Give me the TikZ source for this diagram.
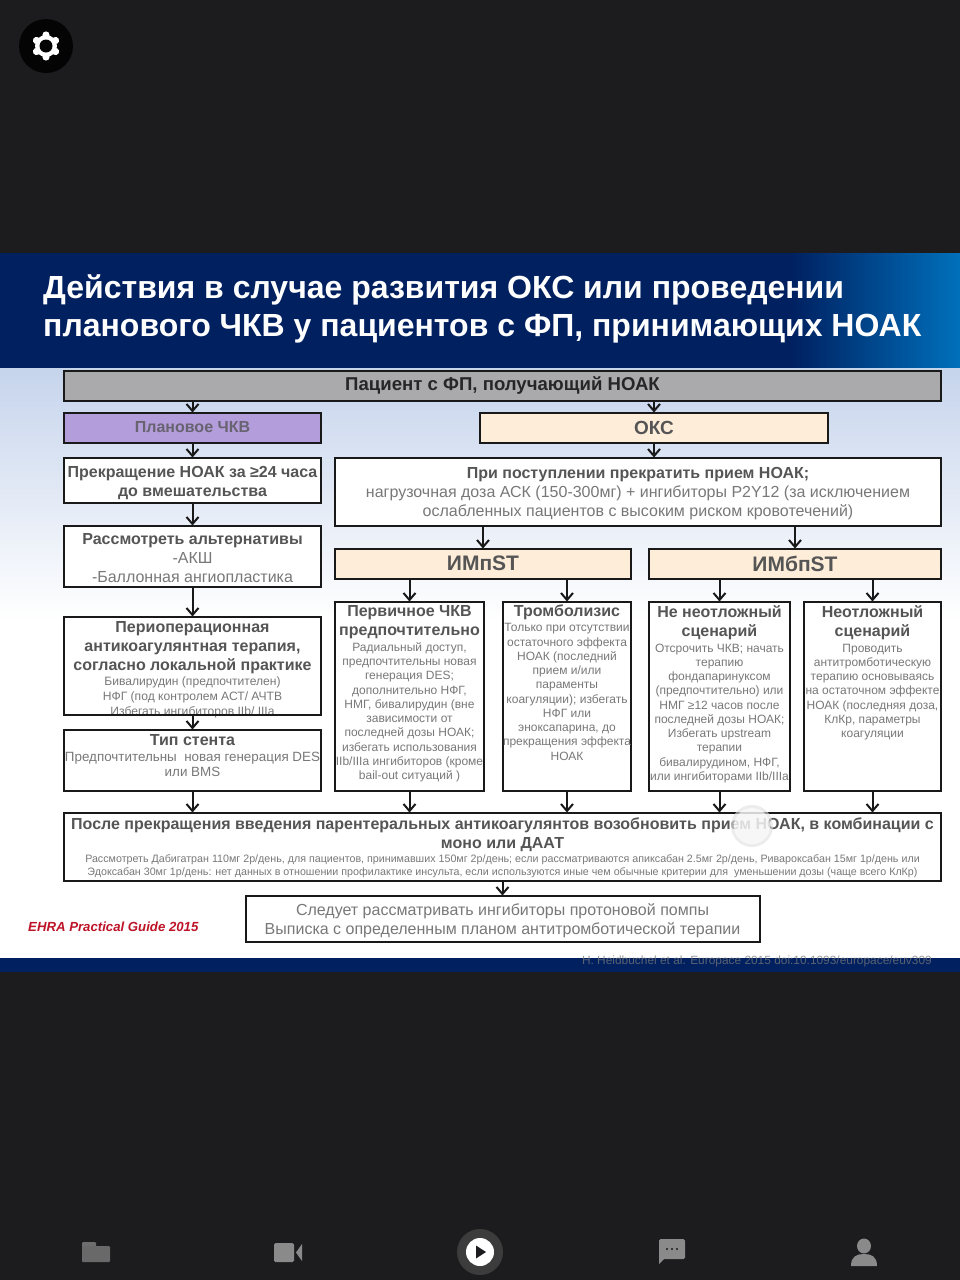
\documentclass[tikz,border=0pt]{standalone}
\usepackage{fontspec}
\setmainfont{Liberation Sans}
\usepackage{xcolor}
\usepackage{tikz}
\usetikzlibrary{arrows.meta, positioning}
\definecolor{appdark}{RGB}{28, 28, 30}
\definecolor{navy}{RGB}{0, 32, 96}
\definecolor{brightblue}{RGB}{0, 112, 187}
\definecolor{paleblue}{RGB}{198, 212, 236}
\definecolor{headgrey}{RGB}{85, 85, 85}
\definecolor{bodygrey}{RGB}{120, 120, 120}
\definecolor{patientgrey}{RGB}{170, 170, 172}
\definecolor{lilac}{RGB}{179, 157, 219}
\definecolor{cream}{RGB}{253, 237, 217}
\definecolor{ehrared}{RGB}{190, 20, 40}
\definecolor{icongrey}{RGB}{138, 138, 138}
\newcommand{\hd}{\fontsize{16}{19}\selectfont\bfseries\color{headgrey}}
\newcommand{\reg}{\fontsize{16}{19}\selectfont\color{bodygrey}}
\newcommand{\sm}{\fontsize{12}{14.25}\selectfont\color{bodygrey}}
\newcommand{\tinytxt}{\fontsize{10.7}{13.3}\selectfont\color{bodygrey}}
% width, height, vertical position, text
\newcommand{\flowtext}[4]{\parbox[c][#2pt][#3]{#1pt}{\centering #4}}

\begin{document}
\begin{tikzpicture}[
    x=1pt, y=-1pt,
    flowbox/.style={rectangle, draw=black!90, fill=white, line width=2pt, inner sep=0pt, outer sep=0pt, align=center},
    titlebox/.style={flowbox, fill=cream},
    line/.style={draw=black!90, line width=2pt, -{Straight Barb[length=7pt, width=12pt, line width=2pt]}},
    icon/.style={fill=icongrey, draw=none}
]

    % Background
    \useasboundingbox (0,0) rectangle (960,1280);
    \fill[appdark] (0,0) rectangle (960,1280);
    \fill[navy] (0,253) rectangle (790,368);
    \shade[left color=navy, right color=brightblue] (790,253) rectangle (960,368);
    \shade[top color=paleblue, bottom color=white] (0,368) rectangle (960,620);
    \fill[white] (0,620) rectangle (960,958);
    \fill[navy] (0,958) rectangle (960,972);
    \node[inner sep=0pt, text=white, font=\fontsize{32}{38}\selectfont\bfseries, align=left, anchor=north west] (slidetitle) at (43,274.5) {Действия в случае развития ОКС или проведении\\планового ЧКВ у пациентов с ФП, принимающих НОАК};

    % Nodes
    \node[flowbox, fill=patientgrey, minimum width=877pt, minimum height=30pt, font=\fontsize{18.6}{20}\selectfont\bfseries, text=black!85] (patient) at (502.5,385.5) {\raisebox{-1pt}{Пациент с ФП, получающий НОАК}};
    \node[flowbox, fill=lilac, minimum width=257pt, minimum height=30pt, below right=12pt and 0pt of patient.south west, font=\fontsize{16}{19}\selectfont\bfseries, text=headgrey!80!lilac] (plan) {Плановое ЧКВ};
    \node[flowbox, below=15pt of plan] (stopnoak) {\flowtext{257}{45}{c}{\vspace{6pt}\hd Прекращение НОАК за ≥24 часа\\до вмешательства\par}};
    \node[flowbox, below=23pt of stopnoak] (altern) {\flowtext{257}{61}{c}{\vspace{4pt}{\hd Рассмотреть альтернативы\par}{\reg -АКШ\\-Баллонная ангиопластика\par}}};
    \node[flowbox, below=30pt of altern] (periop) {\flowtext{257}{98}{t}{\vspace{5pt}{\hd Периоперационная\\антикоагулянтная терапия,\\согласно локальной практике\par}{\fontsize{12.1}{15}\selectfont\color{bodygrey} Бивалирудин (предпочтителен)\\НФГ (под контролем АСТ/ АЧТВ\\Избегать ингибиторов IIb/ IIIa\par}}};
    \node[flowbox, below=15pt of periop] (stent) {\flowtext{257}{61}{t}{\vspace{5pt}{\hd Тип стента\par}{\fontsize{13.4}{15.5}\selectfont\color{bodygrey} Предпочтительны~ новая генерация DES\\или BMS\par}}};

    \node[titlebox, minimum width=348pt, minimum height=30pt, right=159pt of plan, font=\fontsize{19}{21}\selectfont\bfseries, text=headgrey] (oks) {ОКС};
    \node[flowbox, right=14pt of stopnoak.north east, anchor=north west] (admit) {\flowtext{606}{68}{c}{\vspace{4pt}{\hd При поступлении прекратить прием НОАК;\par}{\reg нагрузочная доза АСК (150-300мг) + ингибиторы P2Y12 (за исключением\\ослабленных пациентов с высоким риском кровотечений)\par}}};
    \node[titlebox, minimum width=296pt, minimum height=30pt, below right=23pt and 0pt of admit.south west, font=\fontsize{21}{23}\selectfont\bfseries, text=headgrey] (impst) {ИМпST};
    \node[titlebox, minimum width=292pt, minimum height=30pt, right=18pt of impst, font=\fontsize{21}{23}\selectfont\bfseries, text=headgrey] (imbpst) {ИМбпST};

    \node[flowbox, below right=23pt and 0pt of impst.south west] (pci) {\flowtext{149}{189}{t}{\vspace{4pt}{\hd Первичное ЧКВ\\предпочтительно\par}\vspace{1.5pt}{\sm Радиальный доступ,\\предпочтительны новая\\генерация DES;\\дополнительно НФГ,\\НМГ, бивалирудин (вне\\зависимости от\\последней дозы НОАК;\\избегать использования\\IIb/IIIa ингибиторов (кроме\\bail-out ситуаций )\par}}};
    \node[flowbox, right=19pt of pci] (thromb) {\flowtext{128}{189}{t}{\vspace{3pt}{\hd Тромболизис\par}\vspace{1.5pt}{\sm Только при отсутствии\\остаточного эффекта\\НОАК (последний\\прием и/или\\параменты\\коагуляции); избегать\\НФГ или\\эноксапарина, до\\прекращения эффекта\\НОАК\par}}};
    \node[flowbox, right=18pt of thromb] (nonurgent) {\flowtext{141}{189}{t}{\vspace{4pt}{\hd Не неотложный\\сценарий\par}\vspace{1.5pt}{\sm Отсрочить ЧКВ; начать\\терапию\\фондапаринуксом\\(предпочтительно) или\\НМГ ≥12 часов после\\последней дозы НОАК;\\Избегать upstream\\терапии\\бивалирудином, НФГ,\\или ингибиторами IIb/IIIa\par}}};
    \node[flowbox, right=14pt of nonurgent] (urgent) {\flowtext{137}{189}{t}{\vspace{4pt}{\hd Неотложный\\сценарий\par}\vspace{1.5pt}{\sm Проводить\\антитромботическую\\терапию основываясь\\на остаточном эффекте\\НОАК (последняя доза,\\КлКр, параметры\\коагуляции\par}}};

    \node[flowbox, below right=22pt and 0pt of stent.south west] (after) {\flowtext{877}{68}{t}{\vspace{5pt}{\hd После прекращения введения парентеральных антикоагулянтов возобновить прием НОАК, в комбинации с\\моно или ДААТ\par}\vspace{1pt}{\tinytxt Рассмотреть Дабигатран 110мг 2р/день, для пациентов, принимавших 150мг 2р/день; если рассматриваются апиксабан 2.5мг 2р/день, Ривароксабан 15мг 1р/день или\\Эдоксабан 30мг 1р/день: нет данных в отношении профилактике инсульта, если используются иные чем обычные критерии для~ уменьшении дозы (чаще всего КлКр)\par}}};
    \node[flowbox, below=15pt of after] (final) {\flowtext{514}{46}{c}{\vspace{4pt}\reg Следует рассматривать ингибиторы протоновой помпы\\Выписка с определенным планом антитромботической терапии\par}};

    \node[inner sep=0pt, anchor=west, text=ehrared, font=\fontsize{13.2}{16}\selectfont\bfseries\itshape] (ehra) at (28,927) {EHRA Practical Guide 2015};
    \node[inner sep=0pt, anchor=east, text=bodygrey, opacity=.75, font=\fontsize{11.9}{14}\selectfont] (citation) at (932,961) {H. Heidbuchel et al. Europace 2015 doi:10.1093/europace/euv309};

    % Paths
    \path[line] (patient.south -| plan.north) -- (plan.north);
    \path[line] (patient.south -| oks.north) -- (oks.north);
    \path[line] (plan) -- (stopnoak);
    \path[line] (stopnoak) -- (altern);
    \path[line] (altern) -- (periop);
    \path[line] (periop) -- (stent);
    \path[line] (stent) -- (stent |- after.north);
    \path[line] (oks.south) -- (oks.south |- admit.north);
    \path[line] (admit.south -| impst.north) -- (impst.north);
    \path[line] (admit.south -| imbpst.north) -- (imbpst.north);
    \path[line] (impst.south -| pci.north) -- (pci.north);
    \path[line] (impst.south -| thromb.north) -- (thromb.north);
    \path[line] (imbpst.south -| nonurgent.north) -- (nonurgent.north);
    \path[line] (imbpst.south -| urgent.north) -- (urgent.north);
    \path[line] (pci) -- (pci |- after.north);
    \path[line] (thromb) -- (thromb |- after.north);
    \path[line] (nonurgent) -- (nonurgent |- after.north);
    \path[line] (urgent) -- (urgent |- after.north);
    \path[line] (after.south -| final.north) -- (final.north);
    % box edge runs over the last line of text
    \draw[black!90, line width=2pt] (periop.south west) -- (periop.south east);

    % Touch marker
    \fill[black!12, opacity=.6] (752,826) circle (21);
    \fill[white, opacity=.6] (752,826) circle (18);

    % Settings button
    \fill[black!85!appdark] (46,46) circle (27);
    \foreach \a in {0,60,...,300}
        \fill[white, rotate around={\a:(46,46)}] (46,35) circle (3.6);
    \fill[white] (46,46) circle (11);
    \fill[black!85!appdark] (46,46) circle (6.5);

    % Bottom bar
    \fill[icongrey!75!appdark, rounded corners=1pt] (82,1242) rectangle (96,1250);
    \fill[icongrey!70!appdark, rounded corners=1pt] (82,1246) rectangle (110,1262);
    \fill[icon, rounded corners=1.5pt] (274,1243) rectangle (294,1262);
    \fill[icon] (296,1252.5) -- (302,1244) -- (302,1261) -- cycle;
    \fill[white!14!appdark] (480,1252) circle (23);
    \fill[white] (480,1252) circle (14);
    \fill[appdark] (476,1245.5) -- (486,1252) -- (476,1258.5) -- cycle;
    \fill[icon, rounded corners=1.5pt] (659,1239) rectangle (685,1259);
    \fill[icon] (659,1256) -- (659,1264) -- (665,1258) -- cycle;
    \foreach \x in {667,672,677}
        \fill[appdark] (\x,1249) circle (1.1);
    \fill[icon] (864,1246) ellipse (7 and 7.5);
    \fill[icon] (851,1266) .. controls (851,1256) and (857,1254) .. (864,1254) .. controls (871,1254) and (877,1256) .. (877,1266) -- cycle;

\end{tikzpicture}
\end{document}
